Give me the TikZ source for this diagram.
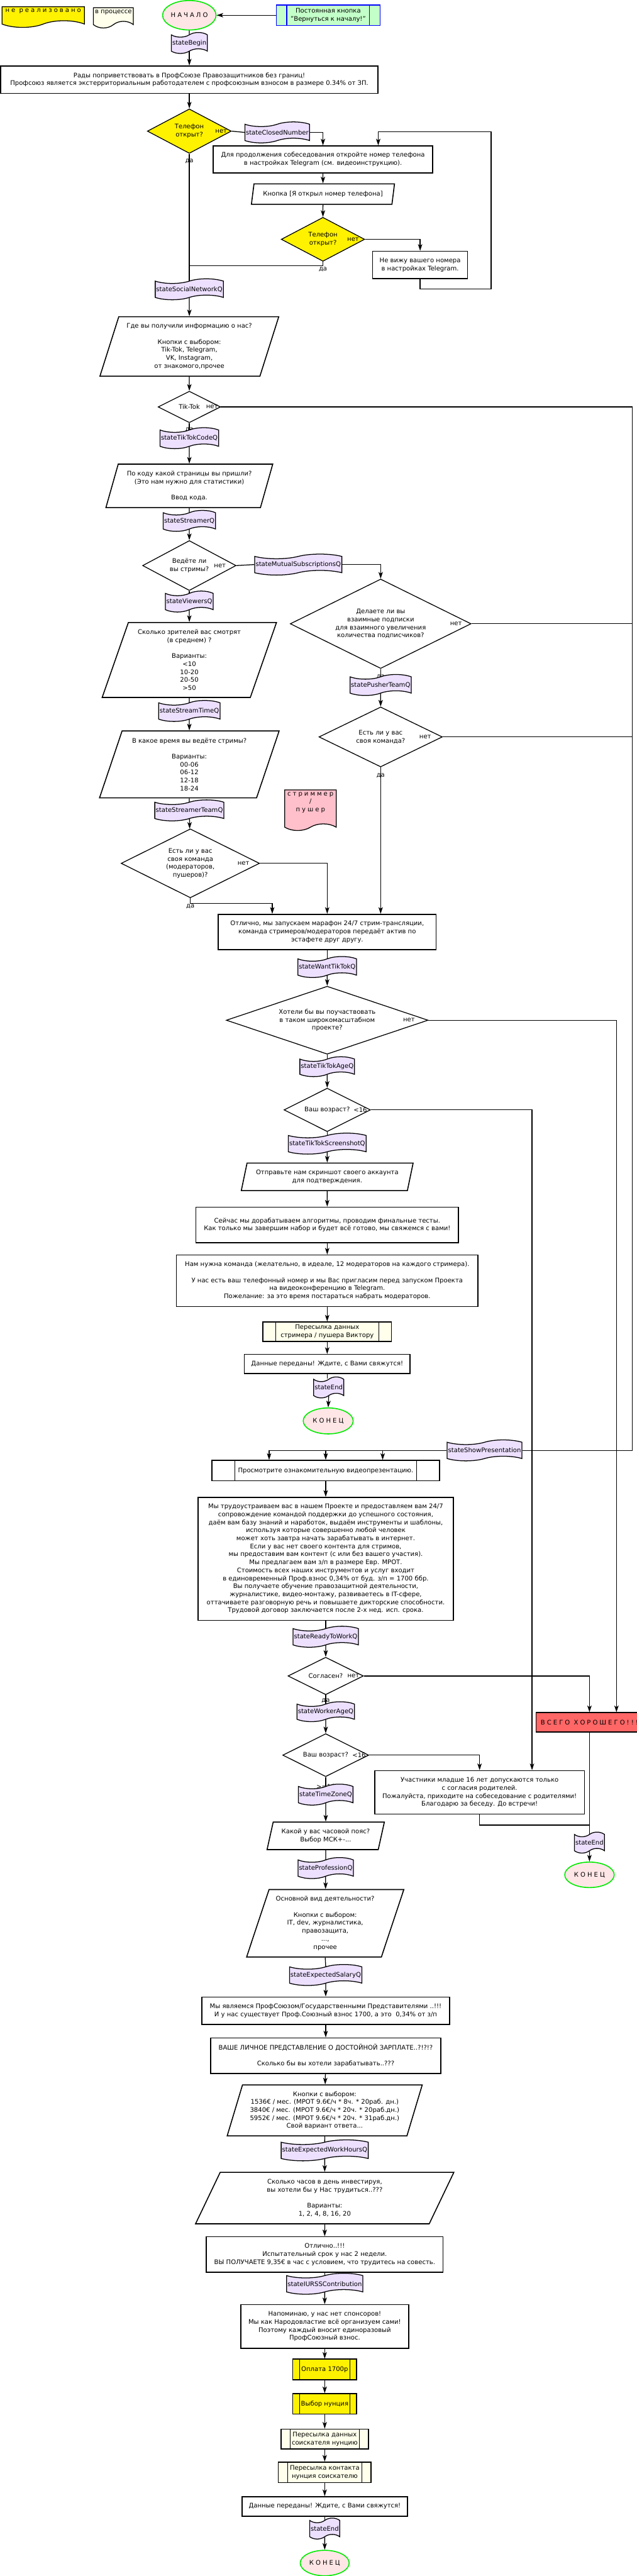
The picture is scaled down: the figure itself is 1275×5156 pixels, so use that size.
\documentclass[tikz,border=0pt]{standalone}
\usepackage{fontspec}
\setmainfont{DejaVu Sans}
\newfontfamily\spacedfont[LetterSpace=30]{DejaVu Sans}
\usetikzlibrary{shapes.geometric,shapes.symbols,arrows.meta}

\definecolor{stateviolet}{RGB}{237,224,255}
\definecolor{procivory}{RGB}{255,255,236}
\definecolor{startpink}{RGB}{255,230,230}
\definecolor{termgreen}{RGB}{0,235,0}
\definecolor{btngreen}{RGB}{195,255,200}
\definecolor{byered}{RGB}{255,102,102}
\definecolor{rolepink}{RGB}{255,192,203}

\tikzset{every picture/.style={line width=0.75pt}}
\tikzset{
	sz/.style 2 args={minimum width=#1*0.75pt, minimum height=#2*0.75pt},
	procbox/.style={draw, line width=1.5pt, fill=white, align=center, inner sep=1pt},
	iobox/.style={trapezium, trapezium left angle=70, trapezium right angle=110, trapezium stretches=true, draw, line width=1.5pt, fill=white, align=center, inner sep=0pt},
	decision/.style={diamond, aspect=2, draw, line width=1.2pt, fill=white, align=center, inner sep=0pt},
	stateflag/.style={tape, draw, line width=1.2pt, fill=stateviolet, inner xsep=1.5pt, minimum height=31.5pt, tape bend height=7pt},
	docflag/.style={tape, tape bend top=none, draw, line width=1.2pt, align=center, inner xsep=1pt, tape bend height=10pt},
	subproc/.style 2 args={procbox, fill=procivory, path picture={
		\draw[line width=1pt, #2] ([xshift=#1]path picture bounding box.north west) -- ([xshift=#1]path picture bounding box.south west)
			([xshift=-#1]path picture bounding box.north east) -- ([xshift=-#1]path picture bounding box.south east);}},
	termin/.style={ellipse, draw=termgreen, line width=1.5pt, fill=startpink, inner sep=0pt},
	flowline/.style={line width=1.2pt},
	flowarrow/.style={line width=1.2pt, -{Stealth[length=10pt, width=6.5pt, inset=2.5pt]}},
}

\begin{document}
\begin{tikzpicture}[x=0.75pt,y=0.75pt,yscale=-1,xscale=1, font=\fontsize{9.5}{12}\selectfont]
	\useasboundingbox (0,0) rectangle (1275,5156);

	%Shape: Document (legend)
	\node[docflag, fill=yellow, sz={165}{39}, text depth=9pt] (legendTodo) at (86.5,27.5) {\spacedfont не реализовано};
	\node[docflag, fill=procivory, sz={80}{40}, text depth=8.5pt] (legendWip) at (227,29) {в процессе};
	\node[docflag, fill=rolepink, sz={103}{74}, text depth=15pt] (legendRole) at (621.5,1615) {\spacedfont стриммер\\\spacedfont /\\\spacedfont пушер};

	%Shape: Ellipse
	\node[termin, sz={107}{59}] (start) at (379,30.5) {\spacedfont НАЧАЛО};
	\node[subproc={15.75pt}{blue}, draw=blue, fill=btngreen, sz={208}{41}] (backBtn) at (657,30.5) {Постоянная кнопка\\"Вернуться к началу!"};
	\node[stateflag] (stBegin) at (379,86) {stateBegin};
	\node[procbox, sz={755}{55}] (welcome) at (379,159.5) {Рады поприветствовать в ПрофСоюзе Правозащитников без границ!\\Профсоюз является экстерриториальным работодателем с профсоюзным взносом в размере 0.34\% от ЗП.};

	%Shape: Diamond
	\node[decision, fill=yellow, sz={168}{89}] (dPhone) at (379,262.5) {Телефон\\открыт?};
	\node (dPhoneNo) at ([xshift=-15.75pt]dPhone.east) {нет};
	\node (dPhoneYes) at ([yshift=11.25pt]dPhone.south) {да};
	\node[stateflag] (stClosed) at (555,265) {stateClosedNumber};
	\node[procbox, sz={439}{54}] (openBox) at (646.5,319) {Для продолжения собеседования откройте номер телефона\\в настройках Telegram (см. видеоинструкцию).};
	\node[iobox, sz={287}{41}] (btnOpened) at (646.5,388.5) {Кнопка [Я открыл номер телефона]};
	\node[decision, fill=yellow, sz={167}{88}] (dPhoneAgain) at (646.5,479) {Телефон\\открыт?};
	\node (dPhoneAgainNo) at ([xshift=-18pt]dPhoneAgain.east) {нет};
	\node (dPhoneAgainYes) at ([yshift=11.25pt]dPhoneAgain.south) {да};
	\node[procbox, sz={190}{55}] (noNumber) at (841,530.5) {Не вижу вашего номера\\в настройках Telegram.};
	\coordinate (join1) at (379,532);

	\node[stateflag] (stSocial) at (379,579) {stateSocialNetworkQ};
	\node[iobox, sz={359}{119}] (whereQ) at (379,693.5) {Где вы получили информацию о нас?\\[12pt]Кнопки с выбором:\\Tik-Tok, Telegram,\\VK, Instagram,\\от знакомого,прочее};
	\node[decision, sz={125}{63}] (dTikTok) at (379,814.5) {Tik-Tok};
	\node (dTikTokNo) at ([xshift=-13.5pt]dTikTok.east) {нет};
	\node (dTikTokYes) at ([yshift=10.5pt]dTikTok.south) {да};
	\coordinate (busR) at (1266,2903);

	\node[stateflag] (stTikTokCode) at (379,877) {stateTikTokCodeQ};
	\node[iobox, sz={335}{87}] (codeQ) at (379,972.5) {По коду какой страницы вы пришли?\\(Это нам нужно для статистики)\\[12pt]Ввод кода.};
	\node[stateflag] (stStreamer) at (379,1042.5) {stateStreamerQ};
	\node[decision, sz={187}{100}] (dStreams) at (379,1132) {Ведёте ли\\вы стримы?};
	\node (dStreamsNo) at ([xshift=-24.75pt]dStreams.east) {нет};
	\node (dStreamsYes) at ([yshift=9.75pt]dStreams.south) {да};
	\node[stateflag] (stMutual) at (597,1130) {stateMutualSubscriptionsQ};
	\node[decision, sz={362}{179}] (dMutual) at (762,1248.5) {Делаете ли вы\\взаимные подписки\\для взаимного увеличения\\количества подписчиков?};
	\node (dMutualNo) at ([xshift=-23.25pt]dMutual.east) {нет};
	\node (dMutualYes) at ([yshift=12pt]dMutual.south) {да};
	\node[stateflag] (stPusherTeam) at (762,1371) {statePusherTeamQ};
	\node[decision, sz={247}{120}] (dPusherTeam) at (762,1475) {Есть ли у вас\\своя команда?};
	\node (dPusherTeamNo) at ([xshift=-26.25pt]dPusherTeam.east) {нет};
	\node (dPusherTeamYes) at ([yshift=12.75pt]dPusherTeam.south) {да};

	\node[stateflag] (stViewers) at (379,1204) {stateViewersQ};
	\node[iobox, sz={349}{150}] (viewersQ) at (379,1321) {Сколько зрителей вас смотрят\\(в среднем) ?\\[12pt]Варианты:\\<10\\10-20\\20-50\\>50};
	\node[stateflag] (stStreamTime) at (379,1423) {stateStreamTimeQ};
	\node[iobox, sz={360}{134}] (timeQ) at (379,1530) {В какое время вы ведёте стримы?\\[12pt]Варианты:\\00-06\\06-12\\12-18\\18-24};
	\node[stateflag] (stStreamerTeam) at (379,1622) {stateStreamerTeamQ};
	\node[decision, sz={277}{138}] (dStreamerTeam) at (381,1728) {Есть ли у вас\\своя команда\\(модераторов,\\пушеров)?};
	\node (dStreamerTeamNo) at ([xshift=-24.75pt]dStreamerTeam.east) {нет};
	\node (dStreamerTeamYes) at ([yshift=12.75pt]dStreamerTeam.south) {да};

	\node[procbox, sz={436}{71}] (marathon) at (655,1865.5) {Отлично, мы запускаем марафон 24/7 стрим-трансляции,\\команда стримеров/модераторов передаёт актив по\\эстафете друг другу.};
	\node[stateflag] (stWantTikTok) at (655,1935.5) {stateWantTikTokQ};
	\node[decision, aspect=3, sz={404}{136}] (dWant) at (655,2042) {Хотели бы вы поучаствовать\\в таком широкомасштабном\\проекте?};
	\node (dWantNo) at ([xshift=-29.25pt]dWant.east) {нет};
	\node (dWantYes) at ([yshift=14.25pt]dWant.south) {да};
	\node[stateflag, minimum height=27pt] (stTikTokAge) at (655,2135) {stateTikTokAgeQ};
	\node[decision, sz={173}{87}] (dAgeTikTok) at (655,2221.5) {Ваш возраст?};
	\node (dAgeTikTokMinor) at ([xshift=-15.75pt]dAgeTikTok.east) {<16};
	\node (dAgeTikTokAdult) at ([yshift=13.5pt]dAgeTikTok.south) {>=16};
	\node[stateflag] (stScreenshot) at (655,2289) {stateTikTokScreenshotQ};
	\node[iobox, sz={345}{55}] (screenshotQ) at (655,2355.5) {Отправьте нам скриншот своего аккаунта\\для подтверждения.};
	\node[procbox, sz={526}{71}] (testsBox) at (655,2451.5) {Сейчас мы дорабатываем алгоритмы, проводим финальные тесты.\\Как только мы завершим набор и будет всё готово, мы свяжемся с вами!};
	\node[procbox, sz={604}{103}] (teamBox) at (655,2563.5) {Нам нужна команда (желательно, в идеале, 12 модераторов на каждого стримера).\\[12pt]У нас есть ваш телефонный номер и мы Вас пригласим перед запуском Проекта\\на видеоконференцию в Telegram.\\Пожелание: за это время постараться набрать модераторов.};
	\node[subproc={18.75pt}{black}, sz={257}{39}] (fwdStreamer) at (655,2665.5) {Пересылка данных\\стримера / пушера Виктору};
	\node[procbox, sz={332}{38}] (sentStreamer) at (655,2730) {Данные переданы! Ждите, с Вами свяжутся!};
	\node[stateflag] (stEndStreamer) at (658,2777) {stateEnd};
	\node[termin, sz={100}{52}] (endStreamer) at (657,2844) {\spacedfont КОНЕЦ};

	\node[stateflag] (stPresentation) at (970,2903) {stateShowPresentation};
	\node[subproc={34.5pt}{black}, fill=white, sz={456}{41}] (presentation) at (652,2943.5) {Просмотрите ознакомительную видеопрезентацию.};
	\node[procbox, sz={511}{246}] (offerBox) at (652,3120) {Мы трудоустраиваем вас в нашем Проекте и предоставляем вам 24/7\\сопровождение командой поддержки до успешного состояния,\\даём вам базу знаний и наработок, выдаём инструменты и шаблоны,\\используя которые совершенно любой человек\\может хоть завтра начать зарабатывать в интернет.\\Если у вас нет своего контента для стримов,\\мы предоставим вам контент (с или без вашего участия).\\Мы предлагаем вам з/п в размере Евр. МРОТ.\\Стоимость всех наших инструментов и услуг входит\\в единовременный Проф.взнос 0,34\% от буд. з/п = 1700 ббр.\\Вы получаете обучение правозащитной деятельности,\\журналистике, видео-монтажу, развиваетесь в IT-сфере,\\оттачиваете разговорную речь и повышаете дикторские способности.\\Трудовой договор заключается после 2-х нед. исп. срока.};
	\node[stateflag] (stReady) at (652,3276) {stateReadyToWorkQ};
	\node[decision, sz={151}{75}] (dAgree) at (652,3354.5) {Согласен?};
	\node (dAgreeNo) at ([xshift=-15.75pt]dAgree.east) {нет};
	\node (dAgreeYes) at ([yshift=9pt]dAgree.south) {да};
	\node[stateflag, minimum height=28pt] (stWorkerAge) at (652,3426) {stateWorkerAgeQ};
	\node[decision, sz={172}{86}] (dAgeWorker) at (652,3513) {Ваш возраст?};
	\node (dAgeWorkerMinor) at ([xshift=-15pt]dAgeWorker.east) {<16};
	\node (dAgeWorkerAdult) at ([yshift=14.25pt]dAgeWorker.south) {>=16};

	%Shape: Rectangle (exit branch)
	\node[procbox, fill=byered, sz={214}{39}] (byeBox) at (1180,3447.5) {\spacedfont ВСЕГО ХОРОШЕГО!!!};
	\node[procbox, sz={420}{87}] (minorBox) at (960,3587.5) {Участники младше 16 лет допускаются только\\с согласия родителей.\\Пожалуйста, приходите на собеседование с родителями!\\Благодарю за беседу. До встречи!};
	\node[stateflag] (stEndBye) at (1180,3688) {stateEnd};
	\node[termin, sz={99}{51}] (endBye) at (1180,3752.5) {\spacedfont КОНЕЦ};

	\node[stateflag] (stTimeZone) at (652,3592) {stateTimeZoneQ};
	\node[iobox, sz={235}{55}] (timeZoneQ) at (652,3674.5) {Какой у вас часовой пояс?\\Выбор МСК+-...};
	\node[stateflag] (stProfession) at (652,3739) {stateProfessionQ};
	\node[iobox, sz={315}{135}] (professionQ) at (651,3849.5) {Основной вид деятельности?\\[12pt]Кнопки с выбором:\\IT, dev, журналистика,\\правозащита,\\...,\\прочее};
	\node[stateflag] (stSalary) at (652,3953) {stateExpectedSalaryQ};
	\node[procbox, sz={496}{55}] (unionBox) at (652,4024.5) {Мы являемся ПрофСоюзом/Государственными Представителями ..!!!\\И у нас существует Проф.Союзный взнос 1700, а это\ \ 0,34\% от з/п};
	\node[procbox, sz={461}{71}] (wageBox) at (652,4114.5) {ВАШЕ ЛИЧНОЕ ПРЕДСТАВЛЕНИЕ О ДОСТОЙНОЙ ЗАРПЛАТЕ..?!?!?\\[12pt]Сколько бы вы хотели зарабатывать..???};
	\node[iobox, sz={391}{102}] (salaryQ) at (650,4224) {Кнопки с выбором:\\1536€ / мес. (МРОТ 9.6€/ч * 8ч. * 20раб. дн.)\\3840€ / мес. (МРОТ 9.6€/ч * 20ч. * 20раб.дн.)\\5952€ / мес. (МРОТ 9.6€/ч * 20ч. * 31раб.дн.)\\Свой вариант ответа...};
	\node[stateflag] (stHours) at (650,4304) {stateExpectedWorkHoursQ};
	\node[iobox, sz={518}{103}] (hoursQ) at (650,4399.5) {Сколько часов в день инвестируя,\\вы хотели бы у Нас трудиться..???\\[12pt]Варианты:\\1, 2, 4, 8, 16, 20};
	\node[procbox, sz={474}{71}] (greatBox) at (650,4512.5) {Отлично..!!!\\Испытательный срок у нас 2 недели.\\ВЫ ПОЛУЧАЕТЕ 9,35€ в час с условием, что трудитесь на совесть.};
	\node[stateflag] (stIURSS) at (650,4571) {stateIURSSContribution};
	\node[procbox, sz={336}{87}] (sponsorBox) at (650,4656.5) {Напоминаю, у нас нет спонсоров!\\Мы как Народовластие всё организуем сами!\\Поэтому каждый вносит единоразовый\\ПрофСоюзный взнос.};
	\node[subproc={10.5pt}{black}, fill=yellow, sz={128}{41}] (payBox) at (650,4742.5) {Оплата 1700р};
	\node[subproc={10.5pt}{black}, fill=yellow, sz={128}{41}] (nuncioBox) at (650,4811.5) {Выбор нунция};
	\node[subproc={13.5pt}{black}, sz={175}{40}] (fwdApplicant) at (650,4882) {Пересылка данных\\соискателя нунцию};
	\node[subproc={14.25pt}{black}, sz={186}{41}] (fwdContact) at (650,4948.5) {Пересылка контакта\\нунция соискателю};
	\node[procbox, sz={331}{39}] (sentApplicant) at (650,5016.5) {Данные переданы! Ждите, с Вами свяжутся!};
	\node[stateflag] (stEndApplicant) at (650,5061) {stateEnd};
	\node[termin, sz={98}{51}] (endApplicant) at (650,5130) {\spacedfont КОНЕЦ};

	%Straight Lines
	\draw[flowarrow] (backBtn) -- (start);
	\draw[flowline] (start) -- (stBegin);
	\draw[flowarrow] (stBegin) -- (welcome);
	\draw[flowarrow] (welcome) -- (dPhone);
	\draw[flowline] (dPhone.east) -- (stClosed.west);
	\draw[flowarrow] (stClosed.east) -| (openBox.north);
	\draw[flowarrow] (openBox) -- (btnOpened);
	\draw[flowarrow] (btnOpened) -- (dPhoneAgain);
	\draw[flowarrow] (dPhoneAgain.east) -| (noNumber.north);
	\draw[flowarrow] (noNumber.south) -- ++(0,19) -| (983,264) -| ([xshift=83pt]openBox.north);
	\draw[flowline] (dPhoneAgain.south) |- (join1);
	\draw[flowline] (dPhone.south) -- (stSocial.north);
	\draw[flowarrow] (stSocial) -- (whereQ);
	\draw[flowarrow] (whereQ) -- (dTikTok);
	\draw[flowline] (dTikTok.east) -| (busR) -- (stPresentation.east);
	\draw[flowline] (dTikTok.south) -- (stTikTokCode.north);
	\draw[flowarrow] (stTikTokCode) -- (codeQ);
	\draw[flowline] (codeQ.south) -- (stStreamer.north);
	\draw[flowarrow] (stStreamer) -- (dStreams);
	\draw[flowline] (dStreams.east) -- (stMutual.west);
	\draw[flowarrow] (stMutual.east) -| (dMutual.north);
	\draw[flowline] (dMutual.east) -- (dMutual.east -| busR);
	\draw[flowline] (dMutual.south) -- (stPusherTeam.north);
	\draw[flowarrow] (stPusherTeam) -- (dPusherTeam);
	\draw[flowline] (dPusherTeam.east) -- (dPusherTeam.east -| busR);
	\draw[flowarrow] (dPusherTeam.south) -- (dPusherTeam.south |- marathon.north);
	\draw[flowline] (dStreams.south) -- (stViewers.north);
	\draw[flowarrow] (stViewers) -- (viewersQ);
	\draw[flowline] (viewersQ.south) -- (stStreamTime.north);
	\draw[flowarrow] (stStreamTime) -- (timeQ);
	\draw[flowline] (timeQ.south) -- (stStreamerTeam.north);
	\draw[flowarrow] (stStreamerTeam) -- (dStreamerTeam);
	\draw[flowarrow] (dStreamerTeam.east) -| (marathon.north);
	\draw[flowarrow] (dStreamerTeam.south) -- ++(0,10) -| ([xshift=-82.5pt]marathon.north);
	\draw[flowline] (marathon.south) -- (stWantTikTok.north);
	\draw[flowarrow] (stWantTikTok) -- (dWant);
	\draw[flowarrow] (dWant.east) -| ([xshift=40.5pt]byeBox.north);
	\draw[flowline] (dWant.south) -- (stTikTokAge.north);
	\draw[flowarrow] (stTikTokAge) -- (dAgeTikTok);
	\draw[flowarrow] (dAgeTikTok.east) -| ([xshift=78.75pt]minorBox.north);
	\draw[flowline] (dAgeTikTok.south) -- (stScreenshot.north);
	\draw[flowarrow] (stScreenshot) -- (screenshotQ);
	\draw[flowarrow] (screenshotQ) -- (testsBox);
	\draw[flowarrow] (testsBox) -- (teamBox);
	\draw[flowarrow] (teamBox) -- (fwdStreamer);
	\draw[flowarrow] (fwdStreamer) -- (sentStreamer);
	\draw[flowline] (sentStreamer.south) -- (stEndStreamer.north -| sentStreamer.south);
	\draw[flowarrow] (stEndStreamer.south) -- (endStreamer.north);
	\draw[flowarrow] (stPresentation.west) -| ([xshift=-85pt]presentation.north);
	\draw[flowarrow] (stPresentation.west) -| (presentation.north);
	\draw[flowarrow] (stPresentation.west) -| ([xshift=85.5pt]presentation.north);
	\draw[flowarrow] (presentation) -- (offerBox);
	\draw[flowline] (offerBox.south) -- (stReady.north);
	\draw[flowarrow] (stReady) -- (dAgree);
	\draw[flowarrow] (dAgree.east) -| (byeBox.north);
	\draw[flowline] (dAgree.south) -- (stWorkerAge.north);
	\draw[flowarrow] (stWorkerAge) -- (dAgeWorker);
	\draw[flowarrow] (dAgeWorker.east) -| (minorBox.north);
	\draw[flowline] (byeBox.south) -- (stEndBye.north);
	\draw[flowline] (minorBox.south) -- ++(0,21) -| (stEndBye.north);
	\draw[flowarrow] (stEndBye) -- (endBye);
	\draw[flowline] (dAgeWorker.south) -- (stTimeZone.north);
	\draw[flowarrow] (stTimeZone) -- (timeZoneQ);
	\draw[flowline] (timeZoneQ.south) -- (stProfession.north);
	\draw[flowarrow] (stProfession) -- (professionQ);
	\draw[flowline] (professionQ.south) -- (stSalary.north);
	\draw[flowarrow] (stSalary) -- (unionBox);
	\draw[flowarrow] (unionBox) -- (wageBox);
	\draw[flowarrow] (wageBox) -- (salaryQ);
	\draw[flowline] (salaryQ.south) -- (stHours.north);
	\draw[flowarrow] (stHours) -- (hoursQ);
	\draw[flowarrow] (hoursQ) -- (greatBox);
	\draw[flowline] (greatBox.south) -- (stIURSS.north);
	\draw[flowarrow] (stIURSS) -- (sponsorBox);
	\draw[flowarrow] (sponsorBox) -- (payBox);
	\draw[flowarrow] (payBox) -- (nuncioBox);
	\draw[flowarrow] (nuncioBox) -- (fwdApplicant);
	\draw[flowarrow] (fwdApplicant) -- (fwdContact);
	\draw[flowarrow] (fwdContact) -- (sentApplicant);
	\draw[flowline] (sentApplicant.south) -- (stEndApplicant.north);
	\draw[flowarrow] (stEndApplicant) -- (endApplicant);

\end{tikzpicture}
\end{document}
